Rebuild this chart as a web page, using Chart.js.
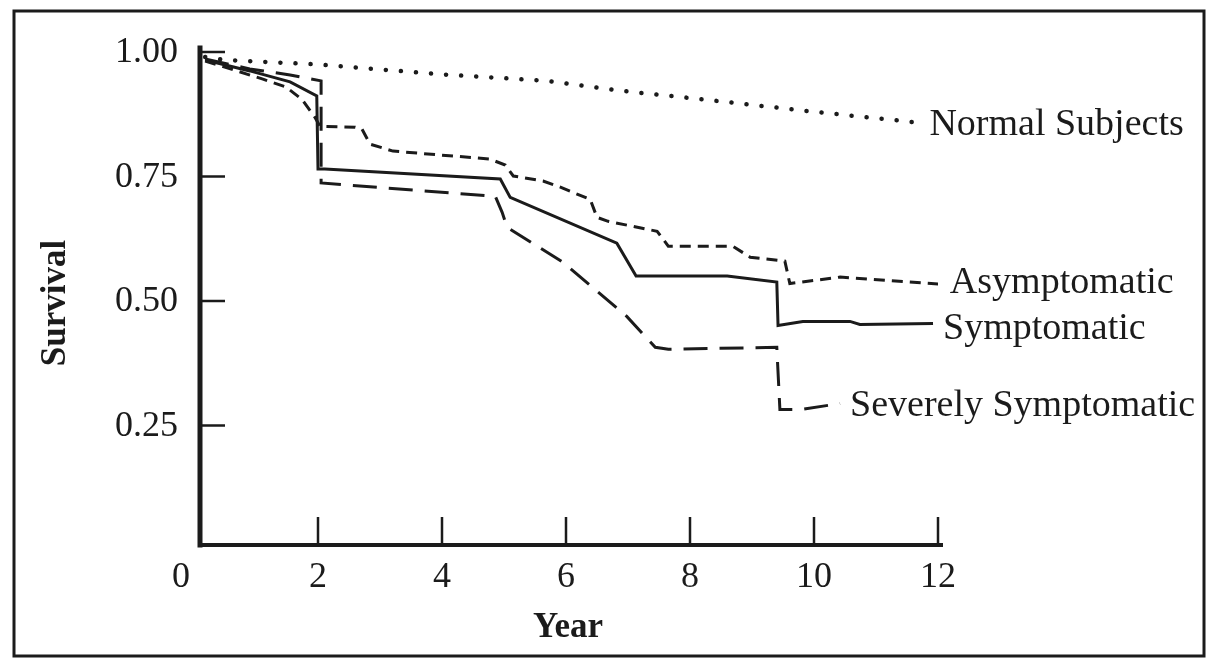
<!DOCTYPE html>
<html>
<head>
<meta charset="utf-8">
<script src="https://cdn.jsdelivr.net/npm/chart.js@4/dist/chart.umd.min.js"></script>
<style>
  html, body { margin: 0; padding: 0; background: #fff; }
  #wrap { width: 1214px; height: 666px; }
</style>
</head>
<body>
<div id="wrap"><canvas id="survivalChart" width="1214" height="666"></canvas></div>
<script>
// ---- data ----
const xTicks = [0, 2, 4, 6, 8, 10, 12];
const yTicks = [0.25, 0.50, 0.75, 1.00];
const seriesNames = ['Normal Subjects', 'Asymptomatic', 'Symptomatic', 'Severely Symptomatic'];

const normalYears = [0.18, 0.5, 2.0, 4.0, 5.7, 6.9, 8.2, 10.0, 11.7];
const normalSurv  = [0.99, 0.984, 0.975, 0.955, 0.942, 0.922, 0.905, 0.88, 0.858];

const asymYears = [0.18, 1.10, 1.48, 1.74, 1.95, 2.03, 2.60, 2.71, 2.84, 3.21, 4.77, 5.02, 5.15, 5.63, 5.90, 6.39, 6.50, 6.68, 7.47, 7.65, 8.69, 8.97, 9.53, 9.61, 10.42, 12.03];
const asymSurv  = [0.982, 0.946, 0.930, 0.905, 0.869, 0.851, 0.849, 0.845, 0.815, 0.801, 0.785, 0.773, 0.751, 0.741, 0.729, 0.704, 0.668, 0.660, 0.640, 0.610, 0.610, 0.588, 0.580, 0.535, 0.548, 0.534];

const sympYears = [0.18, 0.90, 1.55, 1.98, 2.00, 2.11, 4.94, 5.10, 6.82, 7.13, 8.60, 9.40, 9.42, 9.82, 10.58, 10.74, 11.92];
const sympSurv  = [0.984, 0.962, 0.940, 0.912, 0.765, 0.765, 0.745, 0.708, 0.616, 0.550, 0.550, 0.538, 0.451, 0.459, 0.459, 0.453, 0.455];

const sevYears = [0.18, 0.90, 1.55, 2.05, 2.05, 4.86, 4.97, 5.05, 5.95, 6.47, 6.98, 7.44, 7.65, 9.40, 9.45, 9.77, 10.42];
const sevSurv  = [0.986, 0.966, 0.954, 0.942, 0.737, 0.710, 0.678, 0.648, 0.578, 0.523, 0.469, 0.407, 0.403, 0.407, 0.282, 0.282, 0.294];

// ---- helpers ----
const INK = '#1b1b1b';
const SERIF = '"Liberation Serif", "Times New Roman", serif';

function pts(xs, ys) {
  return xs.map((x, i) => ({ x: x, y: ys[i] }));
}

function lineSet(label, xs, ys, dash, cap, width) {
  return {
    label: label,
    data: pts(xs, ys),
    borderColor: INK,
    borderWidth: width || 3,
    borderDash: dash,
    borderCapStyle: cap || 'butt',
    borderJoinStyle: 'miter',
    pointRadius: 0,
    tension: 0,
    fill: false
  };
}

// offsets for the end-of-line labels
const labelNudge = [2, -1, 6, 2];

const decorPlugin = {
  id: 'decor',
  beforeDraw(chart) {
    const ctx = chart.ctx;
    ctx.save();
    ctx.fillStyle = '#fff';
    ctx.fillRect(0, 0, chart.width, chart.height);
    // outer frame
    ctx.strokeStyle = INK;
    ctx.lineWidth = 3;
    ctx.strokeRect(14, 11, 1190, 645);
    ctx.restore();
  },
  afterDraw(chart) {
    const ctx = chart.ctx;
    const xs = chart.scales.x;
    const ys = chart.scales.y;
    const left = xs.getPixelForValue(0) + 6;
    const bottom = ys.getPixelForValue(0) - 5;
    const top = ys.getPixelForValue(1) - 4;
    const right = xs.getPixelForValue(12) + 3;

    ctx.save();
    ctx.strokeStyle = INK;
    ctx.fillStyle = INK;

    // axis lines
    ctx.lineCap = 'square';
    ctx.lineWidth = 5;
    ctx.beginPath();
    ctx.moveTo(left, top);
    ctx.lineTo(left, bottom);
    ctx.stroke();
    ctx.lineWidth = 4;
    ctx.beginPath();
    ctx.moveTo(left, bottom);
    ctx.lineTo(right, bottom);
    ctx.stroke();

    // inward ticks
    ctx.lineCap = 'butt';
    ctx.lineWidth = 2.5;
    yTicks.forEach(v => {
      const py = ys.getPixelForValue(v);
      ctx.beginPath();
      ctx.moveTo(left, py);
      ctx.lineTo(left + 25, py);
      ctx.stroke();
    });
    xTicks.slice(1).forEach(v => {
      const px = xs.getPixelForValue(v);
      ctx.beginPath();
      ctx.moveTo(px, bottom);
      ctx.lineTo(px, bottom - 28);
      ctx.stroke();
    });

    // tick labels
    ctx.font = '36px ' + SERIF;
    ctx.textAlign = 'right';
    ctx.textBaseline = 'middle';
    yTicks.forEach(v => {
      ctx.fillText(v.toFixed(2), left - 22, ys.getPixelForValue(v) + 1);
    });
    ctx.textAlign = 'center';
    xTicks.forEach(v => {
      const px = v === 0 ? xs.getPixelForValue(0) - 13 : xs.getPixelForValue(v);
      ctx.fillText(String(v), px, 578);
    });

    // axis titles
    ctx.font = 'bold 35px ' + SERIF;
    ctx.fillText('Year', 568, 628);
    ctx.save();
    ctx.translate(56, 303);
    ctx.rotate(-Math.PI / 2);
    ctx.fillText('Survival', 0, 0);
    ctx.restore();

    // end-of-line labels
    ctx.font = '38px ' + SERIF;
    ctx.textAlign = 'left';
    chart.data.datasets.forEach((ds, i) => {
      const meta = chart.getDatasetMeta(i);
      const last = meta.data[meta.data.length - 1];
      ctx.fillText(seriesNames[i], last.x + 10, last.y + labelNudge[i]);
    });
    ctx.restore();
  }
};

document.addEventListener('DOMContentLoaded', function() {
  const ctx = document.getElementById('survivalChart').getContext('2d');
  new Chart(ctx, {
    type: 'line',
    data: {
      datasets: [
        lineSet(seriesNames[0], normalYears, normalSurv, [0.1, 15], 'round', 4.5),
        lineSet(seriesNames[1], asymYears, asymSurv, [11, 7]),
        lineSet(seriesNames[2], sympYears, sympSurv, []),
        lineSet(seriesNames[3], sevYears, sevSurv, [24, 12])
      ]
    },
    options: {
      responsive: false,
      animation: false,
      devicePixelRatio: 1,
      layout: { padding: { left: 194, right: 276, top: 52, bottom: 116 } },
      plugins: { legend: { display: false }, tooltip: { enabled: false } },
      scales: {
        x: { type: 'linear', min: 0, max: 12, display: false },
        y: { type: 'linear', min: 0, max: 1, display: false }
      }
    },
    plugins: [decorPlugin]
  });
});
</script>
</body>
</html>
